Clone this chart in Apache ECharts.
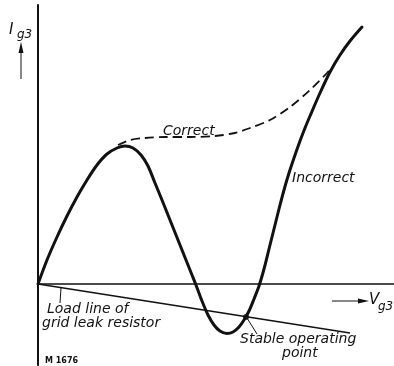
<!DOCTYPE html>
<html>
<head>
<meta charset="utf-8">
<script src="https://cdn.jsdelivr.net/npm/echarts@6/dist/echarts.min.js"></script>
<style>
  html, body { margin: 0; padding: 0; background: #fff; }
  #chart { width: 394px; height: 366px; }
</style>
</head>
<body>
<div id="chart"></div>
<script>
// Grid current I_g3 against grid voltage V_g3 (arbitrary units, origin at 0,0)

// Characteristic with the dip below the axis ("Incorrect")
const incorrectCurve = [
  [0, 0], [9, 24], [19, 47], [29, 68], [39, 87], [49, 104], [59, 119],
  [69, 130], [79, 136], [87, 138], [95, 136], [103, 129], [110, 118],
  [117, 101], [124, 84], [132, 64], [140, 44], [148, 24], [154, 9],
  [158, -1], [164, -17], [170, -31], [176, -41], [182, -47], [189, -49.5],
  [195, -48], [201, -43], [206, -36], [211, -27], [216, -15], [221, -2],
  [226, 15], [231, 35], [236, 55], [241, 75], [246, 94], [251, 111],
  [256, 126], [262, 143], [267, 156], [272, 168], [282, 191], [292, 212],
  [302, 229], [312, 243], [324, 257]
];

// Monotonic characteristic ("Correct"), leaving the peak and rejoining the rise
const correctCurve = [
  [80, 139], [92, 144], [107, 146], [127, 147], [152, 147], [177, 148],
  [197, 151], [212, 156], [232, 164], [252, 177], [272, 194], [289, 211],
  [296, 219]
];

// Load line of the grid leak resistor, through the origin
const loadLine = [[0, 0], [312, -49]];

// Intersection of load line and characteristic
const stablePoint = [[208, -33]];

const INK = '#111';
const FONT = 'italic 14px "DejaVu Sans"';

const chart = echarts.init(document.getElementById('chart'), null, { renderer: 'canvas' });

chart.setOption({
  backgroundColor: '#fff',
  animation: false,
  grid: { left: 38, top: 5, width: 356, height: 360 },
  xAxis: {
    type: 'value', min: 0, max: 356,
    axisLine: { show: true, onZero: true, lineStyle: { color: INK, width: 1.5 } },
    axisTick: { show: false }, axisLabel: { show: false }, splitLine: { show: false }
  },
  yAxis: {
    type: 'value', min: -81, max: 279,
    axisLine: { show: true, lineStyle: { color: INK, width: 2 } },
    axisTick: { show: false }, axisLabel: { show: false }, splitLine: { show: false }
  },
  series: [
    {
      type: 'line', data: loadLine, symbol: 'none',
      lineStyle: { color: INK, width: 1.6 }
    },
    {
      type: 'line', data: correctCurve, symbol: 'none', smooth: 0.3,
      lineStyle: { color: INK, width: 1.8, type: [9, 5] }
    },
    {
      type: 'line', data: incorrectCurve, symbol: 'none', smooth: 0.3,
      lineStyle: { color: INK, width: 3, cap: 'round', join: 'round' }
    },
    {
      type: 'scatter', data: stablePoint, symbolSize: 6,
      itemStyle: { color: INK }
    }
  ],
  graphic: [
    // I_g3 label with upward arrow
    { type: 'text', left: 9, top: 23, style: { text: 'I', font: 'italic 15px "DejaVu Sans"', fill: INK } },
    { type: 'text', left: 17, top: 29, style: { text: 'g3', font: 'italic 12px "DejaVu Sans"', fill: INK } },
    { type: 'line', shape: { x1: 21, y1: 52, x2: 21, y2: 79 }, style: { stroke: INK, lineWidth: 1 } },
    { type: 'polygon', shape: { points: [[21, 42], [18.5, 53], [23.5, 53]] }, style: { fill: INK } },

    // V_g3 label with rightward arrow
    { type: 'line', shape: { x1: 332, y1: 301, x2: 360, y2: 301 }, style: { stroke: INK, lineWidth: 1 } },
    { type: 'polygon', shape: { points: [[369, 301], [358, 298.5], [358, 303.5]] }, style: { fill: INK } },
    { type: 'text', left: 369, top: 293, style: { text: 'V', font: 'italic 15px "DejaVu Sans"', fill: INK } },
    { type: 'text', left: 378, top: 301, style: { text: 'g3', font: 'italic 12px "DejaVu Sans"', fill: INK } },

    // Curve names
    { type: 'text', left: 163, top: 124, style: { text: 'Correct', font: FONT, fill: INK } },
    { type: 'text', left: 292, top: 171, style: { text: 'Incorrect', font: FONT, fill: INK } },

    // Load line annotation
    { type: 'line', shape: { x1: 61, y1: 288, x2: 60, y2: 303 }, style: { stroke: INK, lineWidth: 1 } },
    { type: 'text', left: 47, top: 302, style: { text: 'Load line of', font: FONT, fill: INK } },
    { type: 'text', left: 42, top: 316, style: { text: 'grid leak resistor', font: FONT, fill: INK } },

    // Stable operating point annotation
    { type: 'line', shape: { x1: 247, y1: 318, x2: 257, y2: 334 }, style: { stroke: INK, lineWidth: 1 } },
    { type: 'text', left: 240, top: 332, style: { text: 'Stable operating', font: FONT, fill: INK } },
    { type: 'text', left: 282, top: 346, style: { text: 'point', font: FONT, fill: INK } },

    // Drawing number
    { type: 'text', left: 45, top: 357, style: { text: 'M 1676', font: 'bold 8px "DejaVu Sans"', fill: INK } }
  ]
});
</script>
</body>
</html>
